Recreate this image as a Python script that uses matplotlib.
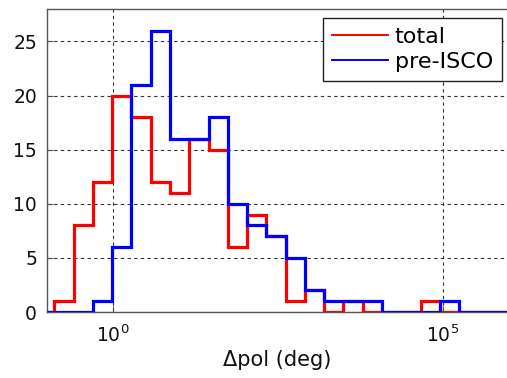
import numpy as np
import matplotlib
matplotlib.use("Agg")
import matplotlib.pyplot as plt
from matplotlib.lines import Line2D
from matplotlib.ticker import NullLocator

# histogram bin edges, log10(deg)
log_edges = [-0.885, -0.593, -0.301, -0.009, 0.284, 0.576, 0.868, 1.160,
             1.453, 1.745, 2.037, 2.329, 2.621, 2.914, 3.206, 3.498,
             3.790, 4.082, 4.375, 4.667, 4.959, 5.251]
total_counts = [1, 8, 12, 20, 18, 12, 11, 16, 15, 6, 9,
                7, 1, 2, 0, 1, 0, 0, 0, 1, 0]
preisco_counts = [0, 0, 1, 6, 21, 26, 16, 16, 18, 10, 8,
                  7, 5, 2, 1, 1, 1, 0, 0, 0, 1]
series_names = ["total", "pre-ISCO"]

x_range = (1e-1, 1e6)
y_range = (0, 28)
x_ticks = [1e0, 1e5]
y_ticks = [0, 5, 10, 15, 20, 25]

plt.rcParams["font.family"] = ["DejaVu Sans"]

fig = plt.figure(figsize=(5.07, 3.78), dpi=100)
ax = fig.add_axes([0.0921, 0.1746, 0.9109, 0.8016])

edges = np.concatenate([[x_range[0]], 10.0 ** np.array(log_edges), [x_range[1]]])
for counts, color in [(total_counts, "#ff0000"), (preisco_counts, "#0000ff")]:
    vals = np.concatenate([[0], counts, [0]])
    ax.stairs(vals, edges, baseline=None, color=color, linewidth=2.3,
              joinstyle="miter", zorder=3)

ax.set_xscale("log")
ax.set_xlim(*x_range)
ax.set_ylim(*y_range)
ax.set_xticks(x_ticks)
ax.xaxis.set_minor_locator(NullLocator())
ax.set_yticks(y_ticks)

ax.grid(True, which="major", color="#333333", linestyle=(0, (3, 3)), linewidth=0.8)
ax.set_axisbelow(True)
for sp in ax.spines.values():
    sp.set_color("#555555")
    sp.set_linewidth(1.0)
ax.tick_params(axis="both", direction="in", length=4, color="#555555",
               labelsize=13.5, labelcolor="#111111")
ax.tick_params(axis="x", pad=9)
ax.tick_params(axis="y", pad=7)

ax.set_xlabel("\u0394pol (deg)", fontsize=15, color="#111111", labelpad=3)

handles = [Line2D([], [], color="#ff0000", linewidth=1.4),
           Line2D([], [], color="#0000ff", linewidth=1.4)]
leg = ax.legend(handles, series_names, loc="upper right",
                bbox_to_anchor=(501.7 / 507, 1 - 18.3 / 378),
                bbox_transform=fig.transFigure, borderaxespad=0,
                fontsize=16, fancybox=False, framealpha=1,
                edgecolor="#222222", handlelength=2.5, handletextpad=0.3,
                labelspacing=0.2, borderpad=0.4)
leg.get_frame().set_linewidth(1.0)

fig.savefig("out.png", dpi=100)
